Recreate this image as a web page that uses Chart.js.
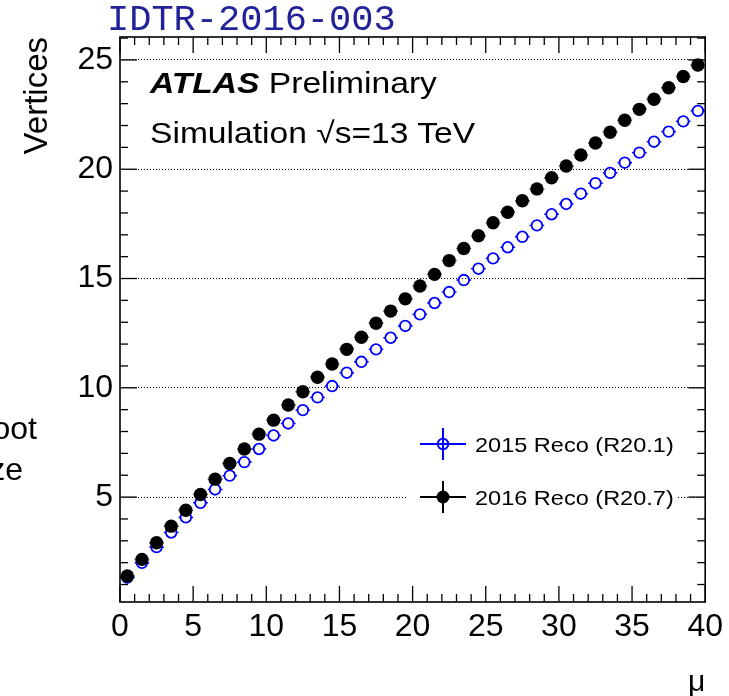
<!DOCTYPE html>
<html>
<head>
<meta charset="utf-8">
<title>Vertices vs mu</title>
<script src="https://cdn.jsdelivr.net/npm/chart.js@4.4.0/dist/chart.umd.min.js"></script>
<style>
  body { margin: 0; background: #fff; }
  #wrap { position: relative; width: 729px; height: 696px; overflow: hidden; font-family: 'Liberation Sans', Arial, sans-serif; }
  #wrap canvas { position: absolute; left: 0; top: 0; }
  .txt { position: absolute; line-height: 1; white-space: nowrap; color: #000; transform-origin: 0 0; }
  .wide { transform: scaleX(1.12); }
</style>
</head>
<body>
<div id="wrap">
  <canvas id="chart" width="729" height="696"></canvas>
  <div class="txt" style="left:107px;top:2px;font-family:'Liberation Mono','Courier New',monospace;font-size:37px;color:#22229a">IDTR-2016-003</div>
  <div class="txt wide" style="left:150px;top:68px;font-size:30px"><b><i>ATLAS</i></b> Preliminary</div>
  <div class="txt wide" style="left:150px;top:118px;font-size:30px">Simulation √s=13 TeV</div>
  <div class="txt wide" style="left:475px;top:434px;font-size:21px">2015 Reco (R20.1)</div>
  <div class="txt wide" style="left:475px;top:487px;font-size:21px">2016 Reco (R20.7)</div>
  <div class="txt" style="right:692px;top:412px;font-size:32px">oot</div>
  <div class="txt" style="right:706px;top:453px;font-size:32px">ze</div>
</div>
<script>
// bin centres of mu and mean number of reconstructed vertices per bin
const mu = [0.5, 1.5, 2.5, 3.5, 4.5, 5.5, 6.5, 7.5, 8.5, 9.5,
            10.5, 11.5, 12.5, 13.5, 14.5, 15.5, 16.5, 17.5, 18.5, 19.5,
            20.5, 21.5, 22.5, 23.5, 24.5, 25.5, 26.5, 27.5, 28.5, 29.5,
            30.5, 31.5, 32.5, 33.5, 34.5, 35.5, 36.5, 37.5, 38.5, 39.5];

const reco2015 = [1.32, 1.99, 2.71, 3.38, 4.07, 4.74, 5.35, 5.98, 6.60, 7.20,
                  7.82, 8.37, 8.98, 9.56, 10.08, 10.69, 11.19, 11.76, 12.29, 12.83,
                  13.36, 13.88, 14.38, 14.93, 15.45, 15.92, 16.43, 16.91, 17.43, 17.94,
                  18.41, 18.88, 19.36, 19.83, 20.30, 20.76, 21.26, 21.72, 22.19, 22.67];

const reco2016 = [1.39, 2.15, 2.91, 3.67, 4.40, 5.12, 5.82, 6.54, 7.20, 7.88,
                  8.52, 9.21, 9.82, 10.48, 11.09, 11.76, 12.31, 12.95, 13.51, 14.07,
                  14.66, 15.19, 15.82, 16.37, 16.96, 17.55, 18.03, 18.56, 19.10, 19.61,
                  20.15, 20.65, 21.20, 21.69, 22.24, 22.74, 23.20, 23.73, 24.24, 24.77];

const xTicks = [0, 5, 10, 15, 20, 25, 30, 35, 40];
const yTicks = [5, 10, 15, 20, 25];

const BLUE = '#0000ff';
const BIN_HALF = 0.5;

function line(ctx, x1, y1, x2, y2) {
  ctx.beginPath();
  ctx.moveTo(x1, y1);
  ctx.lineTo(x2, y2);
  ctx.stroke();
}

// horizontal bin-width error bars, drawn outside the markers (ROOT style)
const errorBars = {
  id: 'errorBars',
  beforeDatasetsDraw(chart) {
    const { ctx, scales: { x, y } } = chart;
    ctx.save();
    ctx.lineWidth = 1.5;
    chart.data.datasets.forEach(ds => {
      ctx.strokeStyle = ds.borderColor;
      const r = ds.pointRadius;
      ds.data.forEach(p => {
        const cx = x.getPixelForValue(p.x);
        const cy = y.getPixelForValue(p.y);
        const x1 = x.getPixelForValue(p.x - BIN_HALF);
        const x2 = x.getPixelForValue(p.x + BIN_HALF);
        line(ctx, x1, cy, cx - r, cy);
        line(ctx, cx + r, cy, x2, cy);
      });
    });
    ctx.restore();
  }
};

// frame, inward ticks on all four sides, and the in-pad legend
const frameAndLegend = {
  id: 'frameAndLegend',
  afterDraw(chart) {
    const { ctx, chartArea: { left, right, top, bottom }, scales: { x, y } } = chart;
    ctx.save();
    ctx.strokeStyle = '#000';
    ctx.lineWidth = 1.3;
    for (let v = Math.ceil(x.min); v <= x.max; v++) {
      const px = x.getPixelForValue(v);
      const len = v % 5 === 0 ? 16 : 8;
      line(ctx, px, bottom, px, bottom - len);
      line(ctx, px, top, px, top + len);
    }
    for (let v = Math.ceil(y.min); v <= y.max; v++) {
      const py = y.getPixelForValue(v);
      const len = v % 5 === 0 ? 17 : 8;
      line(ctx, left, py, left + len, py);
      line(ctx, right, py, right - len, py);
    }
    ctx.lineWidth = 1.6;
    ctx.strokeRect(left, top, right - left, bottom - top);

    // legend box (white, hides the grid line behind it)
    ctx.fillStyle = '#fff';
    ctx.fillRect(407, 426, 270, 86);
    const entries = [
      { cy: 444, color: BLUE, open: true },
      { cy: 497, color: '#000', open: false }
    ];
    entries.forEach(e => {
      const cx = 443;
      ctx.strokeStyle = e.color;
      ctx.lineWidth = 2;
      line(ctx, 420, e.cy, 466, e.cy);
      line(ctx, cx, e.cy - 16, cx, e.cy + 16);
      ctx.beginPath();
      if (e.open) {
        ctx.arc(cx, e.cy, 5.3, 0, Math.PI * 2);
        ctx.lineWidth = 1.8;
        ctx.stroke();
      } else {
        ctx.arc(cx, e.cy, 6.5, 0, Math.PI * 2);
        ctx.fillStyle = e.color;
        ctx.fill();
      }
    });
    ctx.restore();
  }
};

new Chart(document.getElementById('chart'), {
  type: 'scatter',
  data: {
    datasets: [
      {
        label: '2016 Reco (R20.7)',
        data: mu.map((m, i) => ({ x: m, y: reco2016[i] })),
        pointStyle: 'circle',
        pointRadius: 6.7,
        pointBorderWidth: 0,
        backgroundColor: '#000',
        borderColor: '#000',
        order: 0
      },
      {
        label: '2015 Reco (R20.1)',
        data: mu.map((m, i) => ({ x: m, y: reco2015[i] })),
        pointStyle: 'circle',
        pointRadius: 5.3,
        pointBorderWidth: 1.8,
        backgroundColor: 'rgba(0,0,0,0)',
        borderColor: BLUE,
        order: 1
      }
    ]
  },
  options: {
    responsive: false,
    animation: false,
    devicePixelRatio: 1,
    layout: { padding: { left: 0, right: 21, top: 37, bottom: 0 } },
    plugins: {
      legend: { display: false },
      tooltip: { enabled: false }
    },
    scales: {
      x: {
        type: 'linear',
        min: 0,
        max: 40,
        afterBuildTicks: s => { s.ticks = xTicks.map(v => ({ value: v })); },
        afterFit: s => { s.height = 94; },
        grid: { display: false, drawTicks: false },
        border: { display: false },
        ticks: {
          color: '#000',
          padding: 6,
          maxRotation: 0,
          autoSkip: false,
          font: { family: 'Liberation Sans', size: 32 }
        },
        title: {
          display: true,
          text: 'μ',
          align: 'end',
          color: '#000',
          padding: { top: 0, bottom: -5 },
          font: { family: 'Liberation Sans', size: 30 }
        }
      },
      y: {
        type: 'linear',
        min: 0.2,
        max: 26.05,
        afterBuildTicks: s => { s.ticks = yTicks.map(v => ({ value: v })); },
        afterFit: s => { s.width = 120; },
        grid: { color: '#000', lineWidth: 1, drawTicks: false },
        border: { display: false, dash: [1, 2] },
        ticks: {
          color: '#000',
          padding: 7,
          autoSkip: false,
          font: { family: 'Liberation Sans', size: 32 }
        },
        title: {
          display: true,
          text: 'Vertices',
          align: 'end',
          color: '#000',
          padding: { top: 18, bottom: 0 },
          font: { family: 'Liberation Sans', size: 33 }
        }
      }
    }
  },
  plugins: [errorBars, frameAndLegend]
});
</script>
</body>
</html>
